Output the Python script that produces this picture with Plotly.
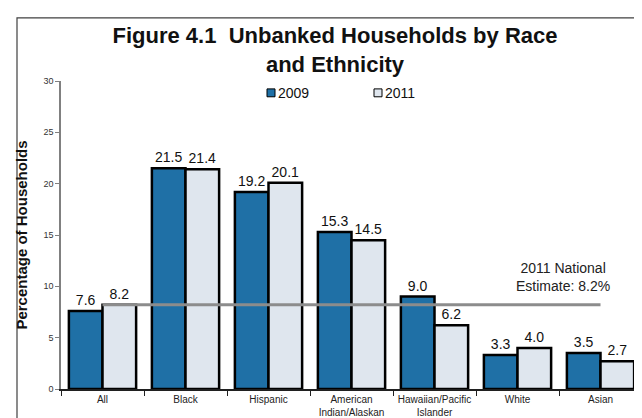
import plotly.graph_objects as go

categories = ["All", "Black", "Hispanic", "American<br>Indian/Alaskan",
              "Hawaiian/Pacific<br>Islander", "White", "Asian"]
vals_2009 = [7.6, 21.5, 19.2, 15.3, 9.0, 3.3, 3.5]
vals_2011 = [8.2, 21.4, 20.1, 14.5, 6.2, 4.0, 2.7]
national_2011 = 8.2
y_ticks = [0, 5, 10, 15, 20, 25, 30]
series_names = ["2009", "2011"]
series_colors = ["#1F70A6", "#DFE6EE"]

FONT = "Arial, Liberation Sans, sans-serif"
W, H = 642, 418
L, R, T, B = 53, 8, 73, 33
pw = W - L - R
ph = H - T - B


def px_x(p):
    return (p - L) / pw


def px_y(p):
    return (H - B - p) / ph


fig = go.Figure()
for name, vals, col in zip(series_names, [vals_2009, vals_2011], series_colors):
    fig.add_trace(go.Bar(
        name=name, x=categories, y=vals,
        marker=dict(color=col, line=dict(color="#000000", width=2.5)),
        text=[f"{v:.1f}" for v in vals], textposition="outside",
        textfont=dict(family=FONT, size=14, color="#111111"),
        cliponaxis=False, showlegend=False,
    ))
fig.add_trace(go.Scatter(
    x=[categories[0], categories[-1]], y=[national_2011, national_2011],
    mode="lines", line=dict(color="#8C8C8C", width=3),
    showlegend=False, hoverinfo="skip",
))

# outer frame (only top and left edges fall inside the picture)
fig.add_shape(type="rect", xref="paper", yref="paper",
              x0=px_x(9), x1=px_x(670), y0=px_y(450), y1=px_y(9),
              line=dict(color="#404040", width=1.2), layer="below")

# custom legend: small outlined squares + labels
legend_x = [259, 366]
for name, col, lx in zip(series_names, series_colors, legend_x):
    fig.add_shape(type="rect", xref="paper", yref="paper",
                  x0=px_x(lx), x1=px_x(lx + 8), y0=px_y(89), y1=px_y(81),
                  fillcolor=col, line=dict(color="#000000", width=1))
    fig.add_annotation(x=px_x(lx + 9), y=px_y(85), xref="paper", yref="paper",
                       text=name, showarrow=False, xanchor="left",
                       yanchor="middle",
                       font=dict(family=FONT, size=14, color="#111111"))

fig.add_annotation(x=5.55, y=10.9, xref="x", yref="y",
                   text="2011 National<br>Estimate: 8.2%", showarrow=False,
                   font=dict(family=FONT, size=14, color="#222222"),
                   align="center")

fig.update_layout(
    width=W, height=H,
    margin=dict(l=L, r=R, t=T, b=B),
    paper_bgcolor="white", plot_bgcolor="white",
    barmode="group", bargap=0.19, bargroupgap=0,
    font=dict(family=FONT, color="#222222"),
    title=dict(text="<b>Figure 4.1\u00a0\u00a0Unbanked Households by Race<br>and Ethnicity</b>",
               x=327 / W, xref="container", xanchor="center",
               y=1 - 35 / H, yanchor="middle",
               font=dict(family=FONT, size=22, color="#111111")),
    showlegend=False,
)
fig.update_yaxes(range=[0, 30], tickvals=y_ticks, ticks="outside", ticklen=4,
                 tickcolor="#808080", showline=True, linecolor="#808080",
                 linewidth=1.5, showgrid=False, zeroline=False,
                 tickfont=dict(family=FONT, size=9, color="#333333"),
                 title=dict(text="<b>Percentage of Households</b>",
                            font=dict(family=FONT, size=15, color="#111111"),
                            standoff=12))
fig.update_xaxes(showline=True, linecolor="#202020", linewidth=1.5,
                 ticks="outside", tickson="boundaries", ticklen=5,
                 tickcolor="#202020", showgrid=False,
                 tickfont=dict(family=FONT, size=10, color="#222222"))

fig.write_html("out.html")
